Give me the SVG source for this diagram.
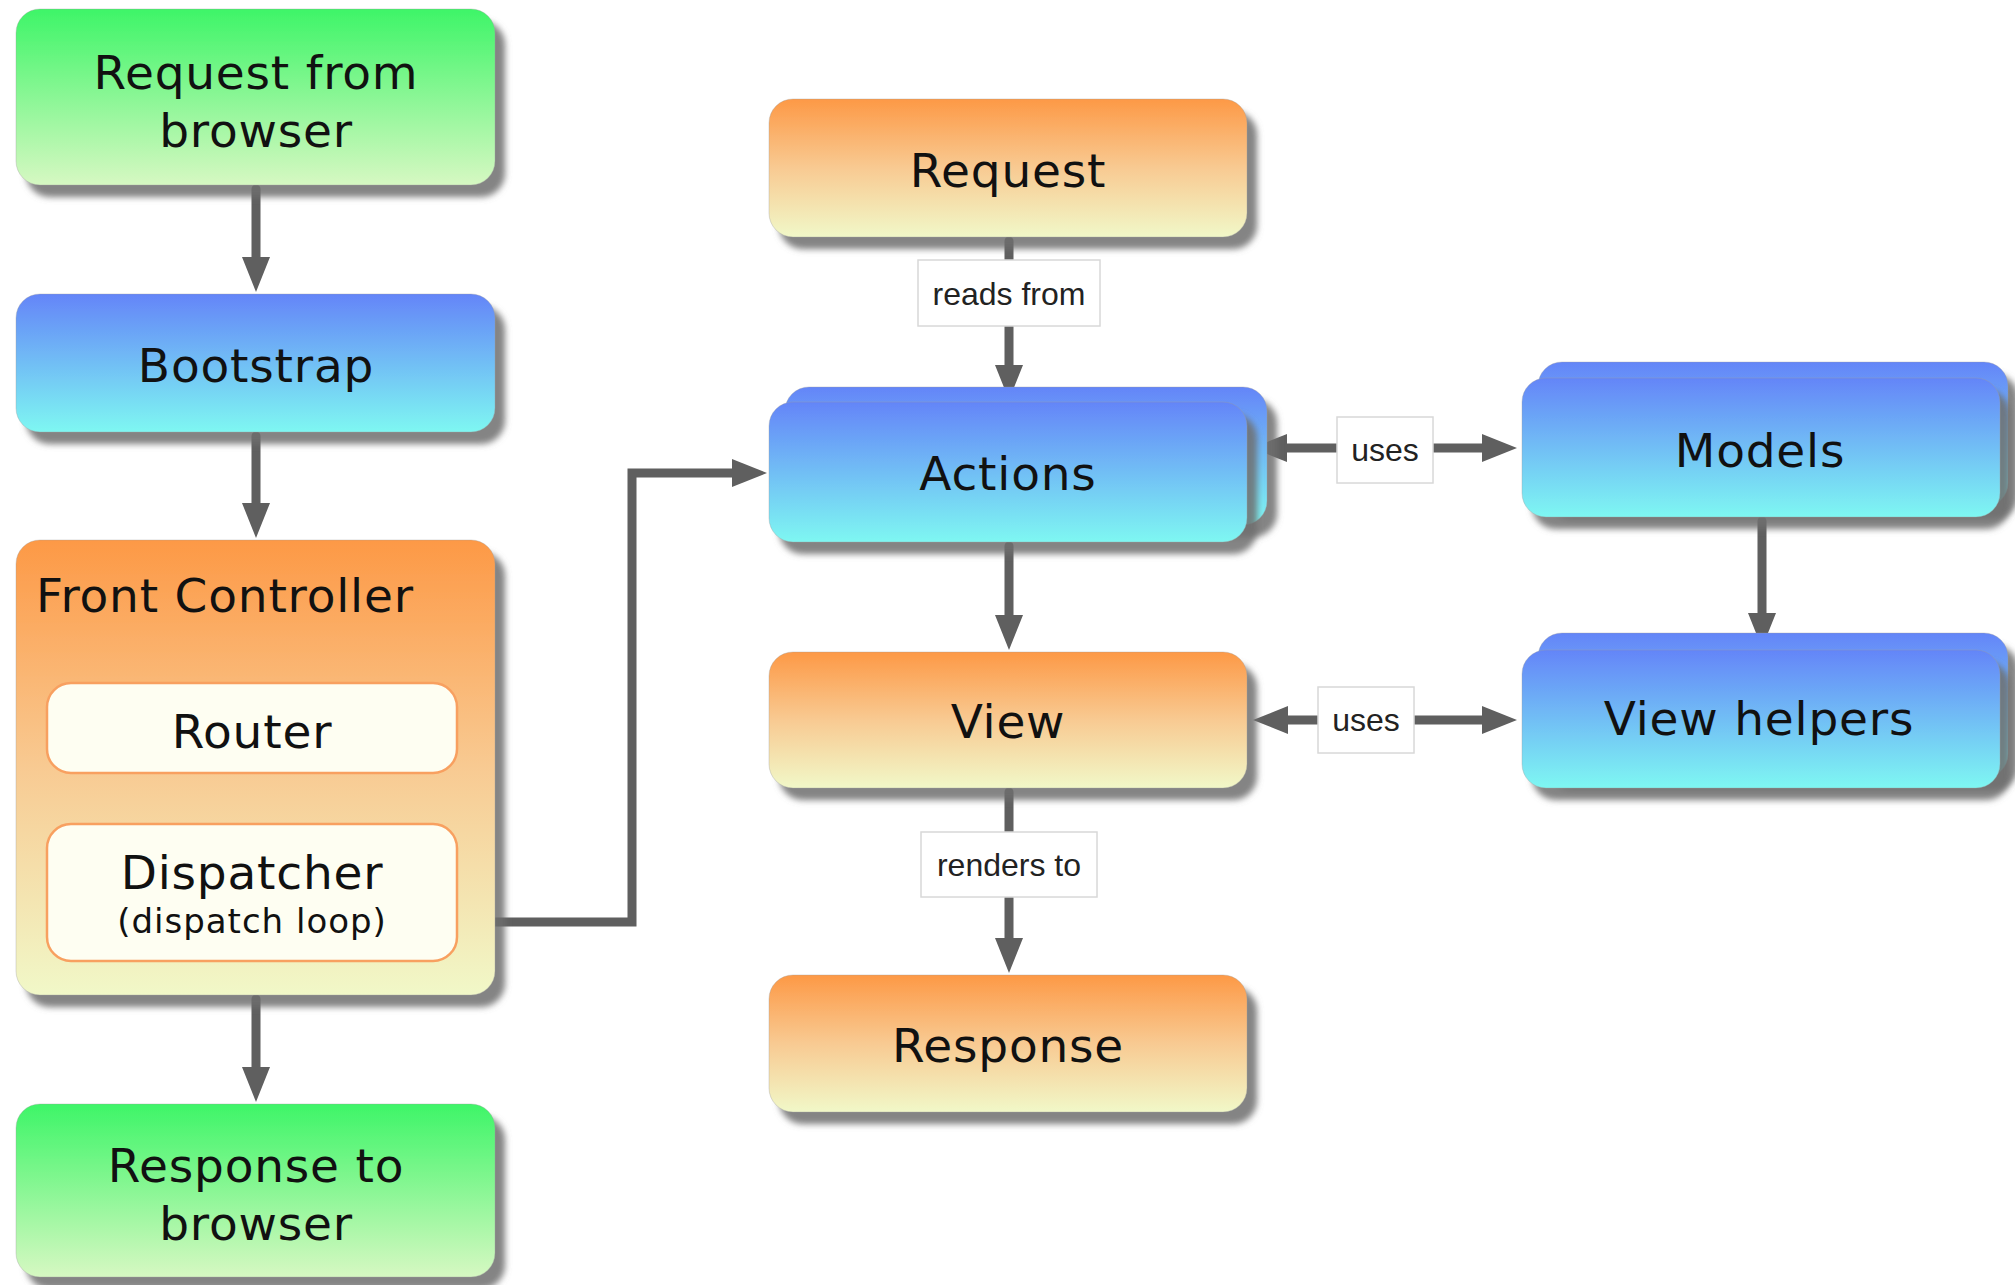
<svg xmlns="http://www.w3.org/2000/svg" width="2015" height="1285" viewBox="0 0 2015 1285">
<defs>
<linearGradient id="gGreen" x1="0" y1="0" x2="0" y2="1">
<stop offset="0" stop-color="#3ef568"/><stop offset="1" stop-color="#d6f8c2"/>
</linearGradient>
<linearGradient id="gBlue" x1="0" y1="0" x2="0" y2="1">
<stop offset="0" stop-color="#6485f8"/><stop offset="1" stop-color="#7ef7f2"/>
</linearGradient>
<linearGradient id="gOrange" x1="0" y1="0" x2="0" y2="1">
<stop offset="0" stop-color="#fd9946"/><stop offset="0.5" stop-color="#f8ca92"/><stop offset="1" stop-color="#f1f8c8"/>
</linearGradient>
<filter id="sh" x="-10%" y="-10%" width="130%" height="140%">
<feGaussianBlur in="SourceAlpha" stdDeviation="3"/>
<feOffset dx="10" dy="12" result="b"/>
<feFlood flood-color="#6e6e6e" flood-opacity="0.85"/>
<feComposite in2="b" operator="in" result="s"/>
<feMerge><feMergeNode in="s"/><feMergeNode in="SourceGraphic"/></feMerge>
</filter>
<marker id="ah" viewBox="0 0 35 28" markerUnits="userSpaceOnUse" markerWidth="35" markerHeight="28" refX="4" refY="14" orient="auto-start-reverse">
<path d="M0,0 L35,14 L0,28 Z" fill="#5f5f5f"/>
</marker>
<style>
.card{filter:url(#sh);stroke:#9a9a9a;stroke-opacity:0.35;stroke-width:1}
.green{fill:url(#gGreen)}
.blue{fill:url(#gBlue)}
.orange{fill:url(#gOrange)}
.inner{fill:#fefef2;stroke:#f8a060;stroke-width:2.5}
.t{font-family:"DejaVu Sans",Verdana,sans-serif;font-size:47px;fill:#111;text-anchor:middle;letter-spacing:0.8px}
.ts{font-family:"DejaVu Sans",Verdana,sans-serif;font-size:34px;fill:#111;text-anchor:middle;letter-spacing:1px}
.conn{fill:none;stroke:#5f5f5f;stroke-width:9;stroke-linecap:round;stroke-linejoin:miter}
.arr{marker-end:url(#ah)}
.both{marker-start:url(#ah);marker-end:url(#ah)}
.lbox{fill:#ffffff;stroke:#d8d8d8;stroke-width:1.5}
.lt{font-family:"Liberation Sans",Arial,sans-serif;font-size:32px;fill:#222;text-anchor:middle}
</style>
</defs>
<rect x="0" y="0" width="2015" height="1285" fill="#ffffff"/>

<g id="connectors">
<path class="conn arr" d="M256,189 V261"/>
<path class="conn arr" d="M256,436 V507"/>
<path class="conn arr" d="M256,999 V1071"/>
<path class="conn arr" d="M493,922 H632 V473 H736"/>
<path class="conn arr" d="M1009,241 V369"/>
<path class="conn arr" d="M1009,546 V619"/>
<path class="conn arr" d="M1009,792 V942"/>
<path class="conn arr" d="M1762,521 V617"/>
<path class="conn both" d="M1283,448 H1486"/>
<path class="conn both" d="M1284,720 H1486"/>
<g id="label-reads-from"><rect class="lbox" x="918" y="260" width="182" height="66"/><text class="lt" x="1009" y="305">reads from</text></g>
<g id="label-renders-to"><rect class="lbox" x="921" y="832" width="176" height="65"/><text class="lt" x="1009" y="876">renders to</text></g>
<g id="label-uses-1"><rect class="lbox" x="1337" y="417" width="96" height="66"/><text class="lt" x="1385" y="461">uses</text></g>
<g id="label-uses-2"><rect class="lbox" x="1318" y="687" width="96" height="66"/><text class="lt" x="1366" y="731">uses</text></g>
</g>

<g id="request-from-browser">
<rect class="card green" x="16" y="9" width="479" height="176" rx="24"/>
<text class="t" x="256" y="89">Request from</text>
<text class="t" x="256" y="147">browser</text>
</g>
<g id="bootstrap">
<rect class="card blue" x="16" y="294" width="479" height="138" rx="24"/>
<text class="t" x="256" y="382">Bootstrap</text>
</g>
<g id="front-controller">
<rect class="card orange" x="16" y="540" width="479" height="455" rx="24"/>
<text class="t" x="36" y="612" style="text-anchor:start">Front Controller</text>
<g id="router">
<rect class="inner" x="47" y="683" width="410" height="90" rx="24"/>
<text class="t" x="252" y="748">Router</text>
</g>
<g id="dispatcher">
<rect class="inner" x="47" y="824" width="410" height="137" rx="24"/>
<text class="t" x="252" y="889">Dispatcher</text>
<text class="ts" x="252" y="933">(dispatch loop)</text>
</g>
</g>
<g id="response-to-browser">
<rect class="card green" x="16" y="1104" width="479" height="173" rx="24"/>
<text class="t" x="256" y="1182">Response to</text>
<text class="t" x="256" y="1240">browser</text>
</g>

<g id="request">
<rect class="card orange" x="769" y="99" width="478" height="138" rx="24"/>
<text class="t" x="1008" y="187">Request</text>
</g>
<g id="actions">
<rect class="card blue" x="785" y="387" width="482" height="138" rx="24"/>
<rect class="card blue" x="769" y="402" width="478" height="140" rx="24"/>
<text class="t" x="1008" y="490">Actions</text>
</g>
<g id="view">
<rect class="card orange" x="769" y="652" width="478" height="136" rx="24"/>
<text class="t" x="1008" y="738">View</text>
</g>
<g id="response">
<rect class="card orange" x="769" y="975" width="478" height="137" rx="24"/>
<text class="t" x="1008" y="1062">Response</text>
</g>
<g id="models">
<rect class="card blue" x="1538" y="362" width="470" height="145" rx="24"/>
<rect class="card blue" x="1522" y="378" width="478" height="139" rx="24"/>
<text class="t" x="1760" y="467">Models</text>
</g>
<g id="view-helpers">
<rect class="card blue" x="1538" y="633" width="470" height="145" rx="24"/>
<rect class="card blue" x="1522" y="650" width="478" height="138" rx="24"/>
<text class="t" x="1759" y="735">View helpers</text>
</g>
</svg>
